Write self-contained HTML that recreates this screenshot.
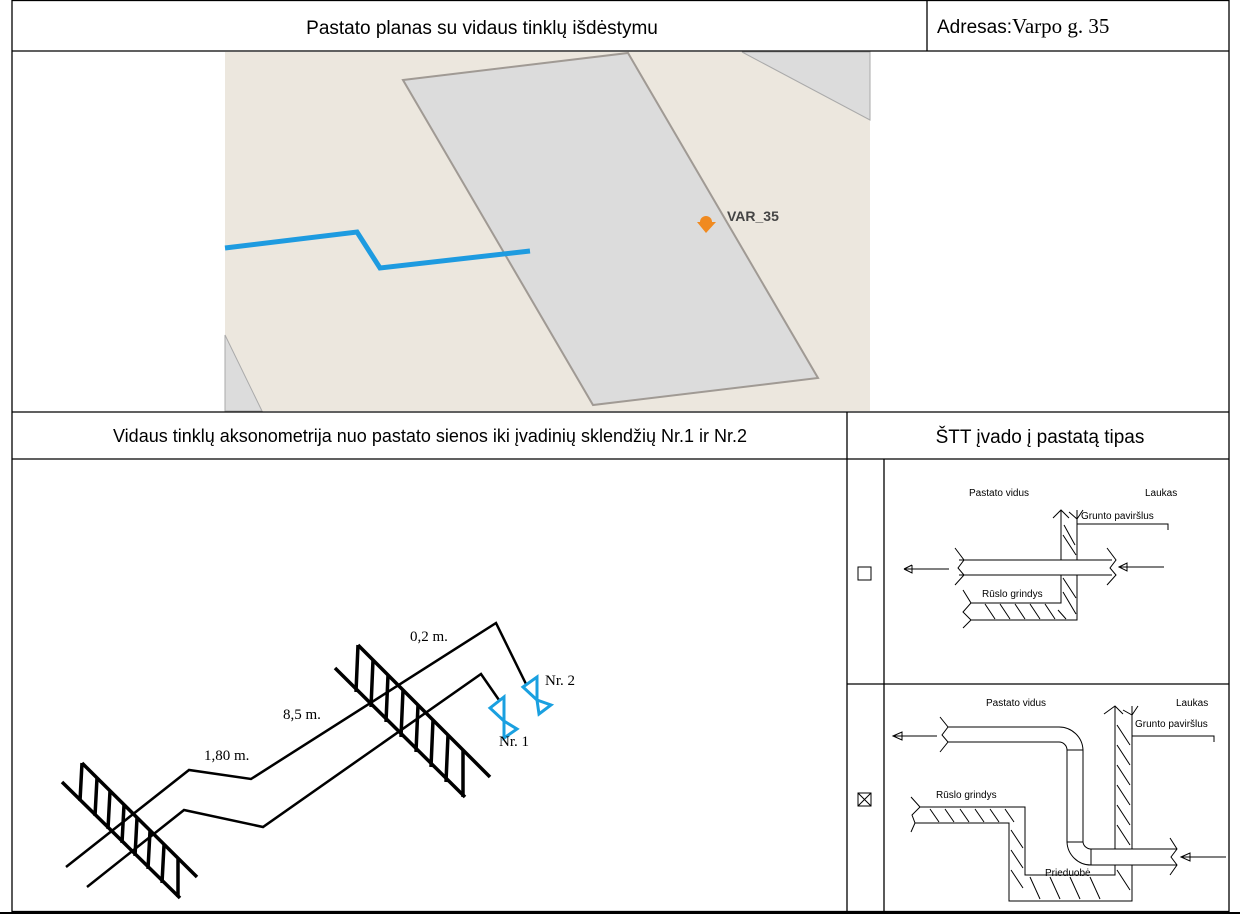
<!DOCTYPE html>
<html><head><meta charset="utf-8"><style>
html,body{margin:0;padding:0;background:#fff;width:1240px;height:916px;overflow:hidden}
svg{display:block}
.s{font-family:"Liberation Sans",sans-serif}
.r{font-family:"Liberation Serif",serif}
</style></head><body>
<svg width="1240" height="916" viewBox="0 0 1240 916" xmlns="http://www.w3.org/2000/svg">
<!-- map -->
<rect x="225" y="52" width="645" height="359" fill="#ece7de"/>
<polygon points="225,335 262,411 225,411" fill="#dcdcdc" stroke="#aaa"/>
<polygon points="742,52 870,52 870,120" fill="#dcdcdc" stroke="#aaa"/>
<polygon points="403,80 628,53 818,378 593,405" fill="#dcdcdc" stroke="#a09a94" stroke-width="2"/>
<polyline points="225,248 357,232 380,268 530,251" fill="none" stroke="#1e9be0" stroke-width="5"/>
<path d="M697,222 L716,222 L706,233 Z" fill="#f08a20"/><circle cx="706" cy="222" r="6" fill="#f08a20"/>
<text class="s" x="727" y="221" font-size="14" font-weight="bold" fill="#444">VAR_35</text>
<!-- table -->
<g stroke="#000" stroke-width="1.3" fill="none">
<rect x="12" y="0.5" width="1217" height="911"/>
<line x1="12" y1="51" x2="1229" y2="51"/>
<line x1="927" y1="0" x2="927" y2="51"/>
<line x1="12" y1="412" x2="1229" y2="412"/>
<line x1="12" y1="459" x2="1229" y2="459"/>
<line x1="847" y1="412" x2="847" y2="912"/>
<line x1="884" y1="459" x2="884" y2="912"/>
<line x1="847" y1="684" x2="1229" y2="684"/>
<line x1="0" y1="913" x2="1240" y2="913" stroke-width="2"/>
</g>
<text class="s" x="482" y="34" font-size="19" text-anchor="middle">Pastato planas su vidaus tinklų išdėstymu</text>
<text class="s" x="937" y="33" font-size="19">Adresas:<tspan class="r" font-size="21">Varpo g. 35</tspan></text>
<text class="s" x="430" y="442" font-size="18" text-anchor="middle">Vidaus tinklų aksonometrija nuo pastato sienos iki įvadinių sklendžių Nr.1 ir Nr.2</text>
<text class="s" x="1040" y="443" font-size="19" text-anchor="middle">ŠTT įvado į pastatą tipas</text>
<!-- checkboxes -->
<rect x="858" y="567" width="13" height="13" fill="none" stroke="#000"/>
<rect x="858" y="793" width="13" height="13" fill="none" stroke="#000"/>
<path d="M858,793 L871,806 M871,793 L858,806" stroke="#000"/>
<!-- axonometry -->
<g stroke="#000" stroke-width="3.5" fill="none" stroke-linecap="butt">
<polyline points="66,867 189,770 251,779 496,623 526,684" stroke-width="2.5"/>
<polyline points="87,887 184,810 263,827 481,674 499,700" stroke-width="2.5"/>
<!-- left wall -->
<line x1="82" y1="763" x2="197" y2="877"/>
<line x1="62" y1="782" x2="180" y2="898"/>
<path d="M82,763 L80,801 M97,778 L95,816 M110,791 L108,829 M124,805 L122,843 M137,818 L135,856 M150,831 L148,869 M164,845 L162,883 M178,859 L178,897"/>
<!-- right wall -->
<line x1="358" y1="645" x2="490" y2="777"/>
<line x1="335" y1="668" x2="465" y2="797"/>
<path d="M358,645 L356,692 M373,660 L371,707 M388,675 L386,722 M403,690 L401,737 M418,705 L416,752 M433,720 L431,767 M448,735 L446,782 M463,750 L463,797"/>
</g>
<g stroke="#1aa0e0" stroke-width="3" fill="none" stroke-linejoin="miter">
<path d="M490,708 L504,697 L504,721 Z M504,721 L517,729 L504,738 Z"/>
<path d="M523,687 L537,677 L537,700 Z M537,700 L551,705 L539,714 Z"/>
</g>
<g font-size="15">
<text class="r" x="410" y="641">0,2 m.</text>
<text class="r" x="283" y="719">8,5 m.</text>
<text class="r" x="204" y="760">1,80 m.</text>
<text class="r" x="545" y="685">Nr. 2</text>
<text class="r" x="499" y="746">Nr. 1</text>
</g>
<!-- type panels -->
<g font-size="10">
<text class="s" x="969" y="496">Pastato vidus</text><text class="s" x="1145" y="496">Laukas</text>
<text class="s" x="1081" y="519">Grunto paviršlus</text><text class="s" x="982" y="597">Rūslo grindys</text>
<text class="s" x="986" y="706">Pastato vidus</text><text class="s" x="1176" y="706">Laukas</text>
<text class="s" x="1135" y="727">Grunto paviršlus</text><text class="s" x="936" y="798">Rūslo grindys</text>
<text class="s" x="1045" y="876">Prieduobė</text>
</g>
<g stroke="#000" stroke-width="1" fill="none">
<path d="M1061,510 L1061,560 M1077,510 L1077,560 M1061,575 L1061,603 L971,603 M1077,575 L1077,620 L971,620"/>
<path d="M1053,518 L1061,510 L1069,518 M1069,512 L1077,519 L1083,510"/>
<path d="M1077,524 L1168,524 L1168,530"/>
<path d="M959,560 L1112,560 M959,575 L1112,575 M955,548 L964,560 L958,568 L964,575 L955,585 M1107,548 L1116,560 L1110,568 L1116,575 L1107,585"/>
<path d="M963,590 L971,603 L963,612 L971,620 L963,628"/>
<path d="M1064,525 L1075,545 M1063,535 L1076,555 M1063,578 L1076,598 M1063,592 L1076,614 M985,604 L995,619 M1000,604 L1010,619 M1015,604 L1025,619 M1030,604 L1040,619 M1045,604 L1055,619 M1058,610 L1066,619"/>
<path d="M904,569 L949,569 M904,569 L912,565 M904,569 L912,573 L912,565 M1119,567 L1164,567 M1119,567 L1127,563 L1127,571 Z"/>
<path d="M1115,706 L1115,849 M1132,706 L1132,849 M1115,865 L1115,875 L1025,875 L1025,807 L920,807 M1132,865 L1132,901 L1009,901 L1009,823 L915,823"/>
<path d="M1104,714 L1115,706 L1123,714 M1123,710 L1132,715 L1138,706"/>
<path d="M1132,736 L1214,736 L1214,742"/>
<path d="M948,727 L1059,727 A24,24 0 0 1 1083,750 M948,742 L1059,742 A8,8 0 0 1 1067,750 M1067,750 L1083,750 L1083,842 L1067,842 Z M1067,842 A24,24 0 0 0 1091,865 M1083,842 A8,8 0 0 0 1091,849 M1091,849 L1177,849 M1091,865 L1177,865 M1091,849 L1091,865"/>
<path d="M940,717 L948,727 L942,735 L948,742 L940,752 M1170,838 L1177,849 L1171,857 L1177,865 L1170,875"/>
<path d="M911,797 L920,807 L912,815 L915,823 L911,832"/>
<path d="M1117,725 L1130,745 M1117,745 L1130,765 M1117,765 L1130,785 M1117,785 L1130,805 M1117,805 L1130,825 M1117,825 L1130,845 M1117,870 L1130,890 M930,809 L939,822 M945,809 L954,822 M960,809 L969,822 M975,809 L984,822 M990,809 L999,822 M1005,809 L1014,822 M1011,830 L1023,848 M1011,850 L1023,868 M1011,870 L1023,888 M1030,877 L1040,899 M1050,877 L1060,899 M1070,877 L1080,899 M1090,877 L1100,899"/>
<path d="M893,736 L937,736 M893,736 L902,732 L902,740 Z M1181,857 L1226,857 M1181,857 L1190,853 L1190,861 Z"/>
</g>
</svg>
</body></html>
